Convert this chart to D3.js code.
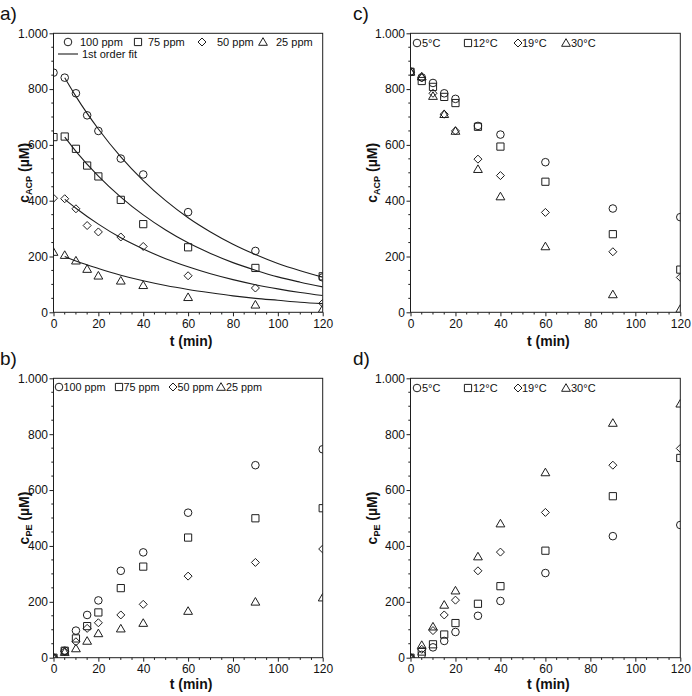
<!DOCTYPE html>
<html>
<head>
<meta charset="utf-8">
<script src="https://cdn.jsdelivr.net/npm/d3@7"></script>
<style>
  html, body { margin: 0; padding: 0; background: #fff; }
  svg { display: block; }
  svg text { font-family: 'Liberation Sans', Arimo, Arial, sans-serif; }
</style>
</head>
<body>
<svg id="chart" width="692" height="696"></svg>
<script>
// ---------------- data ----------------
const times = [0, 5, 10, 15, 20, 30, 40, 60, 90, 120];

// a) c_ACP vs t for ozone doses
const a_100ppm = [859, 841, 785, 706, 650, 551, 494, 359, 220, 125];
const a_75ppm  = [628, 630, 586, 526, 487, 403, 316, 233, 159, 129];
const a_50ppm  = [409, 407, 371, 311, 288, 270, 236, 131, 87, 32];
const a_25ppm  = [216, 205, 185, 155, 131, 113, 97, 54, 27, 12];

// a) 1st order fit curves (read off the picture)
const fitTimes = [5, 10, 20, 30, 40, 50, 60, 70, 80, 90, 100, 110, 120];
const fit_100ppm = [841, 774, 657, 557, 472, 400, 339, 288, 244, 207, 175, 149, 126];
const fit_75ppm  = [628, 577, 488, 413, 349, 295, 249, 211, 178, 151, 127, 108, 91];
const fit_50ppm  = [405, 373, 316, 267, 227, 192, 163, 138, 117, 99, 84, 71, 60];
const fit_25ppm  = [200, 184, 157, 133, 113, 96, 82, 70, 59, 50, 43, 36, 31];

// b) c_PE vs t for ozone doses
const b_100ppm = [0, 25, 97, 153, 205, 311, 377, 519, 689, 746];
const b_75ppm  = [0, 25, 69, 113, 162, 249, 326, 430, 499, 535];
const b_50ppm  = [0, 22, 57, 105, 125, 153, 191, 292, 341, 389];
const b_25ppm  = [0, 20, 33, 60, 87, 104, 124, 167, 200, 215];

// c) c_ACP vs t for temperatures
const c_5C  = [863, 842, 822, 785, 765, 668, 637, 538, 372, 341];
const c_12C = [862, 829, 808, 772, 750, 665, 594, 468, 280, 153];
const c_19C = [860, 840, 785, 710, 650, 549, 490, 358, 217, 125];
const c_30C = [862, 845, 775, 710, 650, 513, 415, 236, 64, 12];

// d) c_PE vs t for temperatures
const d_5C  = [0, 10, 37, 60, 92, 150, 203, 303, 435, 475];
const d_12C = [0, 22, 48, 83, 124, 193, 256, 383, 578, 715];
const d_19C = [0, 30, 97, 153, 206, 311, 378, 520, 689, 749];
const d_30C = [0, 45, 111, 189, 240, 362, 480, 663, 840, 909];

const ppmLabels  = ["100 ppm", "75 ppm", "50 ppm", "25 ppm"];
const tempLabels = ["5°C", "12°C", "19°C", "30°C"];
const fitLabel = "1st order fit";
const xTicks = [0, 20, 40, 60, 80, 100, 120];
const yTicks = [0, 200, 400, 600, 800, 1000];
const yTickLabels = ["0", "200", "400", "600", "800", "1.000"];
const xTitle = "t (min)";
const shapes = ["circle", "square", "diamond", "triangle"];

// ---------------- drawing ----------------
const svg = d3.select("#chart");
const INK = "#1e1e1e";
const FONT = "'Liberation Sans', Arimo, Arial, sans-serif";

function symbolPath(shape) {
  const p = d3.path();
  if (shape === "circle") { p.arc(0, 0, 3.8, 0, 2 * Math.PI); }
  else if (shape === "square") { p.rect(-3.6, -3.6, 7.2, 7.2); }
  else if (shape === "diamond") { p.moveTo(0, -4); p.lineTo(4, 0); p.lineTo(0, 4); p.lineTo(-4, 0); p.closePath(); }
  else { p.moveTo(0, -4.3); p.lineTo(4.4, 3.3); p.lineTo(-4.4, 3.3); p.closePath(); }
  return p.toString();
}

let clipId = 0;
function panel(cfg) {
  const {L, R, T, B} = cfg;
  const x = d3.scaleLinear().domain([0, 120]).range([L, R]);
  const y = d3.scaleLinear().domain([0, 1000]).range([B, T]);
  const g = svg.append("g");

  // minor ticks
  const xMinor = d3.range(0, 121, 5).filter(v => v % 20 !== 0);
  const yMinor = d3.range(0, 1001, 50).filter(v => v % 200 !== 0);
  g.append("g").selectAll("line").data(xMinor).join("line")
    .attr("x1", d => x(d)).attr("x2", d => x(d))
    .attr("y1", B).attr("y2", B + 2.2)
    .attr("stroke", INK).attr("stroke-width", 1);
  g.append("g").selectAll("line").data(yMinor).join("line")
    .attr("y1", d => y(d)).attr("y2", d => y(d))
    .attr("x1", L).attr("x2", L - 2.2)
    .attr("stroke", INK).attr("stroke-width", 1);

  // axes
  const xAxis = d3.axisBottom(x).tickValues(xTicks).tickSize(4).tickPadding(3).tickFormat(d3.format("d"));
  const yAxis = d3.axisLeft(y).tickValues(yTicks).tickSize(4).tickPadding(1.5)
    .tickFormat((d, i) => yTickLabels[i]);
  const gx = g.append("g").attr("transform", `translate(0,${B})`).call(xAxis);
  const gy = g.append("g").attr("transform", `translate(${L},0)`).call(yAxis);
  [gx, gy].forEach(a => {
    a.attr("font-family", null).attr("font-size", null);
    a.select(".domain").remove();
    a.selectAll("line").attr("stroke", INK);
    a.selectAll("text").style("font-family", FONT).style("font-size", "12px").attr("fill", "#111");
  });

  // frame
  g.append("rect").attr("x", L).attr("y", T).attr("width", R - L).attr("height", B - T)
    .attr("fill", "none").attr("stroke", INK).attr("stroke-width", 1);

  // clip
  const id = "clip" + (clipId++);
  svg.append("clipPath").attr("id", id).append("rect")
    .attr("x", L).attr("y", T).attr("width", R - L).attr("height", B - T);
  const plot = g.append("g").attr("clip-path", `url(#${id})`);

  // fit lines
  if (cfg.fits) {
    const line = d3.line().x((d, i) => x(fitTimes[i])).y(d => y(d)).curve(d3.curveMonotoneX);
    cfg.fits.forEach(f => {
      plot.append("path").attr("d", line(f)).attr("fill", "none")
        .attr("stroke", INK).attr("stroke-width", 1.1);
    });
  }
  // markers
  cfg.series.forEach((s, si) => {
    plot.append("g").selectAll("path").data(s).join("path")
      .attr("transform", (d, i) => `translate(${x(times[i])},${y(d)})`)
      .attr("d", symbolPath(shapes[si]))
      .attr("fill", "none").attr("stroke", INK).attr("stroke-width", 1);
  });

  // legend
  const lg = g.append("g");
  cfg.legend.forEach((it, i) => {
    lg.append("path").attr("transform", `translate(${it.sx},${cfg.legY})`)
      .attr("d", symbolPath(shapes[i])).attr("fill", "none").attr("stroke", INK).attr("stroke-width", 1);
    lg.append("text").attr("x", it.tx).attr("y", cfg.legY).attr("dy", "0.36em")
      .style("font-family", FONT).style("font-size", cfg.legFs + "px").attr("fill", "#111").text(cfg.labels[i]);
  });
  if (cfg.fits) {
    lg.append("line").attr("x1", 58).attr("x2", 78).attr("y1", cfg.legY + 12).attr("y2", cfg.legY + 12)
      .attr("stroke", INK).attr("stroke-width", 1.1);
    lg.append("text").attr("x", 82).attr("y", cfg.legY + 12).attr("dy", "0.36em")
      .style("font-family", FONT).style("font-size", cfg.legFs + "px").attr("fill", "#111").text(fitLabel);
  }

  // axis titles
  g.append("text").attr("x", (L + R) / 2 + 3).attr("y", cfg.xTitleY)
    .attr("text-anchor", "middle").attr("font-weight", "bold")
    .style("font-family", FONT).style("font-size", "14px")
    .attr("fill", "#111").text(xTitle);
  const yt = g.append("text")
    .attr("transform", `translate(${cfg.yTitleX},${(T + B) / 2}) rotate(-90)`)
    .attr("text-anchor", "middle").attr("font-weight", "bold")
    .style("font-family", FONT).style("font-size", "14px").attr("fill", "#111");
  yt.append("tspan").text("c");
  yt.append("tspan").style("font-size", "9px").attr("dy", 3).text(cfg.sub);
  yt.append("tspan").attr("dy", -3).text(" (µM)");

  // panel label
  svg.append("text").attr("x", cfg.labX).attr("y", cfg.labY)
    .style("font-family", FONT).style("font-size", "19px").attr("fill", "#111").text(cfg.label);
}

panel({
  L: 53.5, R: 322.7, T: 33.3, B: 312.3,
  series: [a_100ppm, a_75ppm, a_50ppm, a_25ppm],
  fits: [fit_100ppm, fit_75ppm, fit_50ppm, fit_25ppm],
  labels: ppmLabels, legY: 42, legFs: 11,
  legend: [{sx: 68, tx: 80}, {sx: 138, tx: 148}, {sx: 202, tx: 217}, {sx: 263, tx: 276}],
  xTitleY: 346, yTitleX: 29, sub: "ACP", label: "a)", labX: 0, labY: 20
});
panel({
  L: 53.5, R: 322.7, T: 378.3, B: 657.7,
  series: [b_100ppm, b_75ppm, b_50ppm, b_25ppm],
  labels: ppmLabels, legY: 387, legFs: 10.8,
  legend: [{sx: 59, tx: 63.5}, {sx: 119, tx: 123.5}, {sx: 173, tx: 177.5}, {sx: 221, tx: 226}],
  xTitleY: 689, yTitleX: 29, sub: "PE", label: "b)", labX: 0, labY: 365
});
panel({
  L: 410.5, R: 680.3, T: 33.3, B: 312.3,
  series: [c_5C, c_12C, c_19C, c_30C],
  labels: tempLabels, legY: 43, legFs: 11,
  legend: [{sx: 417, tx: 422}, {sx: 468, tx: 473}, {sx: 518, tx: 522}, {sx: 566, tx: 571}],
  xTitleY: 346, yTitleX: 377, sub: "ACP", label: "c)", labX: 353, labY: 20
});
panel({
  L: 410.5, R: 680.3, T: 378.3, B: 657.7,
  series: [d_5C, d_12C, d_19C, d_30C],
  labels: tempLabels, legY: 388, legFs: 11,
  legend: [{sx: 417, tx: 422}, {sx: 468, tx: 473}, {sx: 518, tx: 522}, {sx: 566, tx: 571}],
  xTitleY: 689, yTitleX: 377, sub: "PE", label: "d)", labX: 353, labY: 365
});
</script>
</body>
</html>
